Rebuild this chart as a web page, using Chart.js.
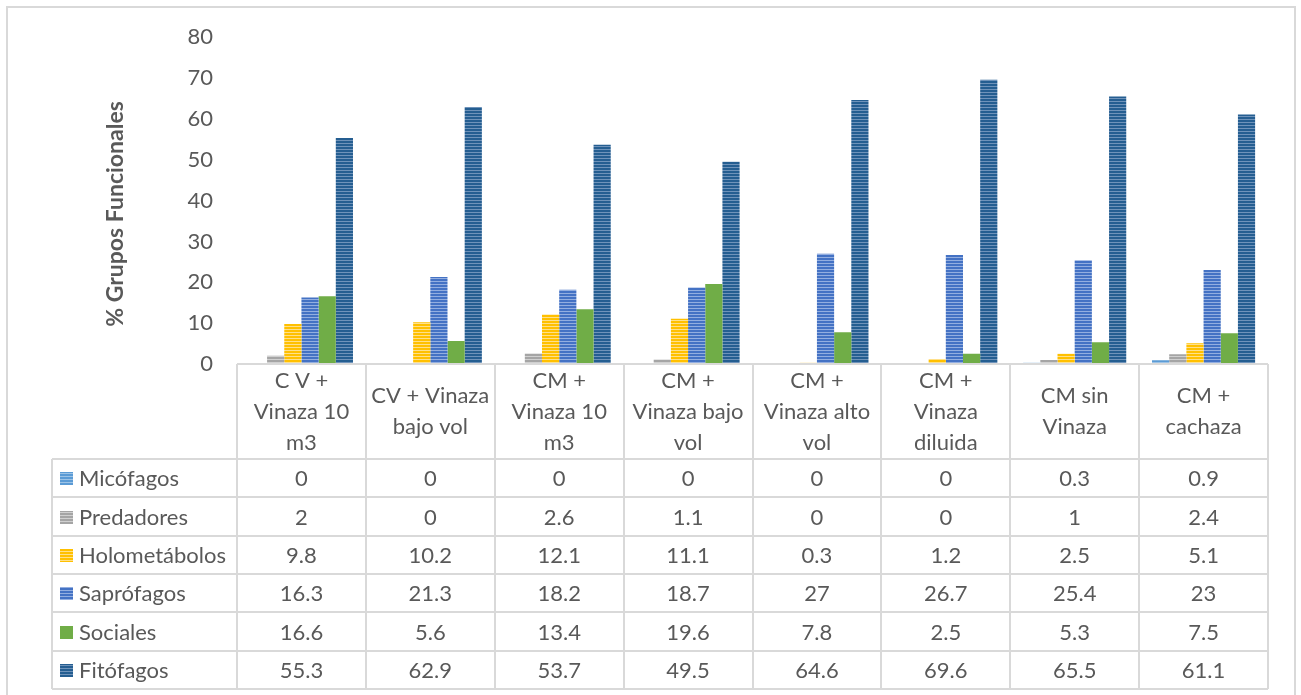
<!DOCTYPE html>
<html>
<head>
<meta charset="utf-8">
<script src="https://cdn.jsdelivr.net/npm/chart.js@4/dist/chart.umd.min.js"></script>
<style>
html,body{margin:0;padding:0;background:#fff;}
#wrap{position:relative;width:1301px;height:695px;}
#frame{position:absolute;left:6px;top:6px;width:1290px;height:700px;border:2px solid #d9d9d9;box-sizing:border-box;}
canvas{position:absolute;left:0;top:0;}
</style>
</head>
<body>
<div id="wrap"><div id="frame"></div><canvas id="c" width="1301" height="695"></canvas></div>
<script>
const categories = [
  ["C V +","Vinaza 10","m3"],
  ["CV + Vinaza","bajo vol"],
  ["CM +","Vinaza 10","m3"],
  ["CM +","Vinaza bajo","vol"],
  ["CM +","Vinaza alto","vol"],
  ["CM +","Vinaza","diluida"],
  ["CM sin","Vinaza"],
  ["CM +","cachaza"]
];
const seriesNames = ["Micófagos","Predadores","Holometábolos","Saprófagos","Sociales","Fitófagos"];
const micofagos     = [0, 0, 0, 0, 0, 0, 0.3, 0.9];
const predadores    = [2, 0, 2.6, 1.1, 0, 0, 1, 2.4];
const holometabolos = [9.8, 10.2, 12.1, 11.1, 0.3, 1.2, 2.5, 5.1];
const saprofagos    = [16.3, 21.3, 18.2, 18.7, 27, 26.7, 25.4, 23];
const sociales      = [16.6, 5.6, 13.4, 19.6, 7.8, 2.5, 5.3, 7.5];
const fitofagos     = [55.3, 62.9, 53.7, 49.5, 64.6, 69.6, 65.5, 61.1];
const yTicks = [0, 10, 20, 30, 40, 50, 60, 70, 80];
const yTitle = "% Grupos Funcionales";

const seriesValues = [micofagos, predadores, holometabolos, saprofagos, sociales, fitofagos];
const baseColors = ["#5B9BD5","#A5A5A5","#FFC000","#4472C4","#70AD47","#255E91"];
const lightColors = ["#9DC3E6","#D0D0D0","#FFE08A","#93AEE0",null,"#6F93BA"];

const FONT = "Lato, 'Noto Sans', sans-serif";
const TXT = "#595959";
const FS = 22;

const canvas = document.getElementById('c');
const mainCtx = canvas.getContext('2d');
function stripe(color, light) {
  if (!light) return color;
  const c = document.createElement('canvas');
  c.width = 4; c.height = 3;
  const g = c.getContext('2d');
  g.fillStyle = color; g.fillRect(0, 0, 4, 3);
  g.fillStyle = light; g.fillRect(0, 2, 4, 1);
  return mainCtx.createPattern(c, 'repeat');
}
const fills = baseColors.map((c, i) => stripe(c, lightColors[i]));

const tablePlugin = {
  id: 'dataTable',
  afterDraw(chart) {
    const ctx = chart.ctx;
    const xs = chart.scales.x;
    const area = chart.chartArea;
    const n = categories.length;
    const catW = (area.right - area.left) / n;
    const top = area.bottom;
    const headerBottom = top + 95;
    const bottom = 689;
    const labelLeft = 52;
    const rowH = (bottom - headerBottom) / seriesNames.length;
    ctx.save();
    ctx.strokeStyle = "#d9d9d9";
    ctx.lineWidth = 2;
    ctx.beginPath();
    ctx.moveTo(area.left, top); ctx.lineTo(area.right, top);
    for (let i = 0; i <= n; i++) {
      const x = Math.round(area.left + i * catW);
      ctx.moveTo(x, top); ctx.lineTo(x, bottom);
    }
    for (let r = 0; r <= seriesNames.length; r++) {
      const y = Math.round(headerBottom + r * rowH);
      ctx.moveTo(labelLeft, y); ctx.lineTo(area.right, y);
    }
    ctx.moveTo(labelLeft, headerBottom); ctx.lineTo(labelLeft, bottom);
    ctx.stroke();

    ctx.fillStyle = TXT;
    ctx.font = FS + "px " + FONT;
    ctx.textAlign = "center";
    ctx.textBaseline = "middle";
    const lh = 31;
    categories.forEach((lines, i) => {
      const cx = xs.getPixelForValue(i);
      const cy = (top + headerBottom) / 2;
      const y0 = cy - (lines.length - 1) * lh / 2;
      lines.forEach((t, k) => ctx.fillText(t, cx, y0 + k * lh));
    });
    seriesNames.forEach((name, r) => {
      const cy = headerBottom + r * rowH + rowH / 2;
      ctx.fillStyle = fills[r];
      ctx.fillRect(60, Math.round(cy - 6), 13, 13);
      ctx.fillStyle = TXT;
      ctx.textAlign = "left";
      ctx.fillText(name, 79, cy + 1);
      ctx.textAlign = "center";
      seriesValues[r].forEach((v, i) => {
        ctx.fillText(String(v), xs.getPixelForValue(i), cy + 1);
      });
    });

    // y axis title
    ctx.save();
    ctx.translate(116, 214);
    ctx.rotate(-Math.PI / 2);
    ctx.font = "bold 23px " + FONT;
    ctx.fillStyle = TXT;
    ctx.textAlign = "center";
    ctx.textBaseline = "middle";
    ctx.fillText(yTitle, 0, 0);
    ctx.restore();

    ctx.restore();
  }
};

new Chart(canvas, {
  type: 'bar',
  data: {
    labels: categories.map(c => c.join(' ')),
    datasets: seriesNames.map((name, i) => ({
      label: name,
      data: seriesValues[i],
      backgroundColor: fills[i],
      borderWidth: 0,
      categoryPercentage: 0.8,
      barPercentage: 1.0
    }))
  },
  options: {
    responsive: false,
    animation: false,
    devicePixelRatio: 1,
    layout: { padding: { left: 102, right: 33, top: 36, bottom: 0 } },
    plugins: { legend: { display: false }, tooltip: { enabled: false } },
    scales: {
      x: {
        grid: { display: false, drawTicks: false },
        border: { display: false },
        ticks: { display: false },
        afterFit(s) { s.height = 331; }
      },
      y: {
        min: 0, max: 80,
        afterBuildTicks(s) { s.ticks = yTicks.map(v => ({ value: v })); },
        grid: { display: false, drawTicks: false },
        border: { display: false },
        ticks: { color: TXT, font: { family: FONT, size: FS }, padding: 24 },
        title: { display: false },
        afterFit(s) { s.width = 237 - 102; }
      }
    }
  },
  plugins: [tablePlugin]
});
</script>
</body>
</html>
